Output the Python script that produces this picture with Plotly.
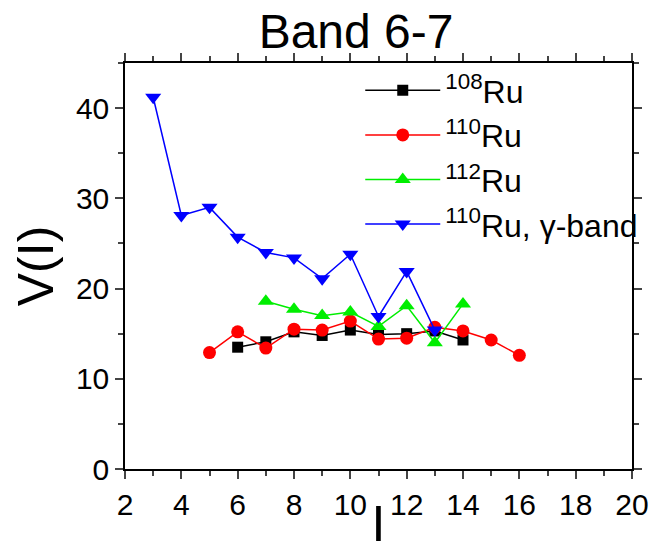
import plotly.graph_objects as go

# spin values I
spin_108 = [6, 7, 8, 9, 10, 11, 12, 13, 14]
v_108 = [13.5, 14.1, 15.2, 14.8, 15.4, 14.9, 15.0, 15.3, 14.3]

spin_110 = [5, 6, 7, 8, 9, 10, 11, 12, 13, 14, 15, 16]
v_110 = [12.9, 15.2, 13.4, 15.5, 15.4, 16.4, 14.4, 14.5, 15.7, 15.3, 14.3, 12.6]

spin_112 = [7, 8, 9, 10, 11, 12, 13, 14]
v_112 = [18.6, 17.7, 17.0, 17.4, 15.8, 18.1, 14.0, 18.3]

spin_gamma = [3, 4, 5, 6, 7, 8, 9, 10, 11, 12, 13]
v_gamma = [41.2, 28.1, 29.0, 25.7, 24.0, 23.4, 21.1, 23.8, 16.9, 21.9, 15.4]

series = [
    ("<sup>108</sup>Ru", spin_108, v_108, "black", "square", 11),
    ("<sup>110</sup>Ru", spin_110, v_110, "red", "circle", 13),
    ("<sup>112</sup>Ru", spin_112, v_112, "#00ee00", "triangle-up", 14),
    ("<sup>110</sup>Ru, γ-band", spin_gamma, v_gamma, "blue", "triangle-down", 14),
]

fig = go.Figure()
for name, x, y, color, symbol, size in series:
    fig.add_trace(go.Scatter(x=x, y=y, name=name, mode="lines+markers",
                             line=dict(color=color, width=1.5),
                             marker=dict(color=color, symbol=symbol, size=size)))

# page has an 8px body margin, so margins are shifted to match the reference
fig.update_layout(
    width=663, height=544,
    margin=dict(l=117, r=39, t=55, b=83),
    plot_bgcolor="white", paper_bgcolor="white",
    font=dict(family="Arial, Liberation Sans", color="black"),
    title=dict(text="Band 6-7", font=dict(size=48), x=0.525, xanchor="center",
               y=0.957, yanchor="middle"),
    legend=dict(x=0.464, y=1.0, xanchor="left", yanchor="top",
                font=dict(size=32), itemwidth=75, bgcolor="rgba(0,0,0,0)",
                tracegroupgap=0),
)

fig.update_xaxes(range=[2, 20], dtick=2, showline=True, linecolor="black", linewidth=1.5,
                 mirror="ticks", ticks="outside", ticklen=8, tickwidth=1.5,
                 tickfont=dict(size=30), showgrid=False, zeroline=False, automargin=False,
                 minor=dict(dtick=1, ticks="outside", ticklen=5, tickwidth=1.5),
                 title=dict(text="I", font=dict(size=50), standoff=8))
fig.update_yaxes(range=[0, 45], dtick=10, showline=True, linecolor="black", linewidth=1.5,
                 mirror="ticks", ticks="outside", ticklen=8, tickwidth=1.5,
                 tickfont=dict(size=30), showgrid=False, zeroline=False, automargin=False,
                 minor=dict(dtick=5, ticks="outside", ticklen=5, tickwidth=1.5),
                 title=dict(text="V(I)", font=dict(size=50), standoff=14))

fig.write_html("out.html")
